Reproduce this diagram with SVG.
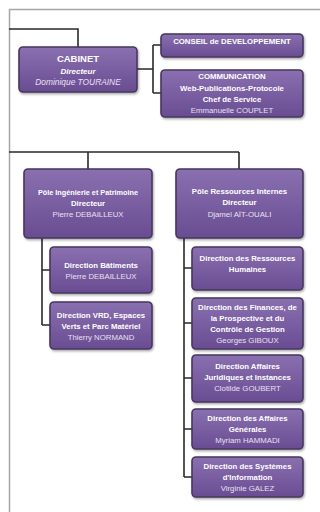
<svg xmlns="http://www.w3.org/2000/svg" width="320" height="512" viewBox="0 0 320 512">
<defs>
<linearGradient id="g" x1="0" y1="0" x2="0" y2="1">
<stop offset="0" stop-color="#8a70b0"/>
<stop offset="1" stop-color="#694c92"/>
</linearGradient>
<filter id="sh" x="-10%" y="-10%" width="130%" height="140%">
<feDropShadow dx="1" dy="1.5" stdDeviation="1" flood-color="#000" flood-opacity="0.35"/>
</filter>
</defs>
<style>
.box{fill:url(#g);stroke:#46375c;stroke-width:1.6;filter:url(#sh)}
.c{fill:none;stroke:#2a2a2a;stroke-width:1.6}
.frame{fill:none;stroke:#a6a6a6;stroke-width:1.5}
text{font-family:"Liberation Sans",Arial,sans-serif;fill:#fff;text-anchor:middle;font-size:7.8px}
.b{font-weight:bold}
.i{font-style:italic}
.big{font-size:9.5px}
.n{fill:#e8e0f2}
</style>
<rect width="320" height="512" fill="#fff"/>
<path class="frame" d="M320 9.5H9.5V512"/>
<g id="connectors">
<path class="c" d="M9 29H78V47"/>
<path class="c" d="M137 69H153M153 45V93M153 45H161M153 93H161"/>
<path class="c" d="M9 152H239M88 152V169M239 152V169"/>
<path class="c" d="M42 238V325M42 270H50M42 325H50"/>
<path class="c" d="M184 238V477M184 268H192M184 323H192M184 378H192M184 429H192M184 477H192"/>
</g>
<g id="cabinet">
<rect class="box" x="19" y="47" width="118" height="45" rx="4"/>
<text x="78" y="62" class="b big">CABINET</text>
<text x="78" y="74" class="b i" style="font-size:8px">Directeur</text>
<text x="78" y="85" class="i n" style="font-size:8.4px">Dominique TOURAINE</text>
</g>
<g id="conseil">
<rect class="box" x="161" y="34" width="142" height="23" rx="4"/>
<text x="232" y="44" class="b">CONSEIL de DEVELOPPEMENT</text>
</g>
<g id="communication">
<rect class="box" x="161" y="70" width="142" height="47" rx="4"/>
<text x="232" y="79" class="b">COMMUNICATION</text>
<text x="232" y="91" class="b">Web-Publications-Protocole</text>
<text x="232" y="102" class="b">Chef de Service</text>
<text x="232" y="113" class="n">Emmanuelle COUPLET</text>
</g>
<g id="pole-ingenierie">
<rect class="box" x="24" y="169" width="128" height="69" rx="4"/>
<text x="88" y="195" class="b" style="font-size:7.3px">Pôle Ingénierie et Patrimoine</text>
<text x="88" y="206" class="b">Directeur</text>
<text x="88" y="217" class="n">Pierre DEBAILLEUX</text>
</g>
<g id="pole-ressources">
<rect class="box" x="176" y="169" width="127" height="69" rx="4"/>
<text x="239.5" y="194" class="b">Pôle Ressources Internes</text>
<text x="239.5" y="205" class="b">Directeur</text>
<text x="239.5" y="217" class="n">Djamel AÏT-OUALI</text>
</g>
<g id="batiments">
<rect class="box" x="50" y="247" width="102" height="46" rx="4"/>
<text x="101" y="268" class="b">Direction Bâtiments</text>
<text x="101" y="279" class="n">Pierre DEBAILLEUX</text>
</g>
<g id="vrd">
<rect class="box" x="50" y="302" width="102" height="47" rx="4"/>
<text x="101" y="318" class="b">Direction VRD, Espaces</text>
<text x="101" y="329" class="b">Verts et Parc Matériel</text>
<text x="101" y="340" class="n">Thierry NORMAND</text>
</g>
<g id="rh">
<rect class="box" x="192" y="247" width="111" height="43" rx="4"/>
<text x="247.5" y="261" class="b">Direction des Ressources</text>
<text x="247.5" y="272" class="b">Humaines</text>
</g>
<g id="finances">
<rect class="box" x="192" y="298" width="111" height="51" rx="4"/>
<text x="247.5" y="310" class="b">Direction des Finances, de</text>
<text x="247.5" y="321" class="b">la Prospective et du</text>
<text x="247.5" y="332" class="b">Contrôle de Gestion</text>
<text x="247.5" y="343" class="n">Georges GIBOUX</text>
</g>
<g id="juridiques">
<rect class="box" x="192" y="355" width="111" height="47" rx="4"/>
<text x="247.5" y="369" class="b">Direction Affaires</text>
<text x="247.5" y="380" class="b">Juridiques et Instances</text>
<text x="247.5" y="391" class="n">Clotilde GOUBERT</text>
</g>
<g id="generales">
<rect class="box" x="192" y="409" width="111" height="40" rx="4"/>
<text x="247.5" y="421" class="b">Direction des Affaires</text>
<text x="247.5" y="432" class="b">Générales</text>
<text x="247.5" y="443" class="n">Myriam HAMMADI</text>
</g>
<g id="systemes">
<rect class="box" x="192" y="457" width="111" height="40" rx="4"/>
<text x="247.5" y="469" class="b">Direction des Systèmes</text>
<text x="247.5" y="480" class="b">d'Information</text>
<text x="247.5" y="491" class="n">Virginie GALEZ</text>
</g>
</svg>
